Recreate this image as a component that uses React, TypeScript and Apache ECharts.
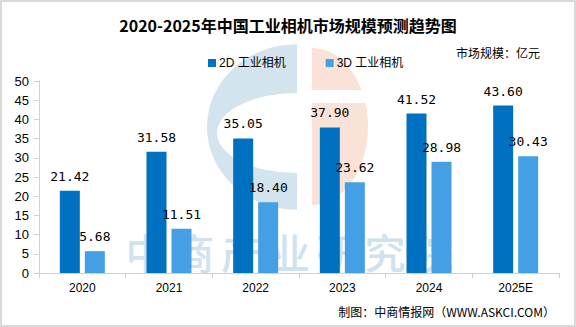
import React, { useEffect, useRef } from "react";
import * as echarts from "echarts";

const categories = ["2020", "2021", "2022", "2023", "2024", "2025E"];
const series2D = [21.42, 31.58, 35.05, 37.9, 41.52, 43.6];
const series3D = [5.68, 11.51, 18.4, 23.62, 28.98, 30.43];
const seriesNames = ["2D 工业相机", "3D 工业相机"];
const yTicks = { min: 0, max: 50, interval: 5 };

const titleText = "2020-2025年中国工业相机市场规模预测趋势图";
const unitText = "市场规模：亿元";
const sourceText = "制图：中商情报网（WWW.ASKCI.COM）";
const watermarkText = "中商产业研究院";

export default function App() {
  const ref = useRef<HTMLDivElement>(null);
  useEffect(() => {
    document.body.style.margin = "0";
    if (!ref.current) return;
    const chart = echarts.init(ref.current, null, { renderer: "svg" });
    const labelStyle = {
      show: true,
      position: "top",
      distance: 8,
      color: "#000",
      fontSize: 13,
      fontFamily: "DejaVu Sans Mono",
      formatter: (p: any) => Number(p.value).toFixed(2),
    };
    const wmChars = Array.from(watermarkText).map((ch, i) => ({
      type: "text",
      z: -7,
      silent: true,
      x: 146 + i * 47.8,
      y: 251,
      style: {
        text: ch,
        fill: "#CFE2EE",
        font: "500 41px 'Noto Sans CJK SC'",
        textAlign: "center",
        textVerticalAlign: "middle",
      },
    }));
    chart.setOption({
      animation: false,
      backgroundColor: "#fff",
      textStyle: { fontFamily: "Liberation Sans, Noto Sans CJK SC" },
      title: {
        text: titleText,
        left: "center",
        top: 12,
        textStyle: {
          fontSize: 16,
          fontWeight: "bold",
          color: "#000",
          fontFamily: "Noto Sans CJK SC",
        },
      },
      legend: {
        data: seriesNames,
        left: 203,
        top: 52,
        itemWidth: 8,
        itemHeight: 8,
        itemGap: 40,
        icon: "rect",
        textStyle: { fontSize: 12, color: "#000", padding: [0, 0, 0, -2] },
      },
      grid: { left: 39, right: 17, top: 81, bottom: 54, containLabel: false },
      xAxis: {
        type: "category",
        data: categories,
        axisLine: { lineStyle: { color: "#d0d0d0", width: 1 } },
        axisTick: { show: true, length: 5, lineStyle: { color: "#d0d0d0" } },
        axisLabel: { color: "#000", fontSize: 12, margin: 9 },
        z: 3,
      },
      yAxis: {
        type: "value",
        min: yTicks.min,
        max: yTicks.max,
        interval: yTicks.interval,
        splitLine: { show: false },
        axisLine: { show: true, lineStyle: { color: "#d0d0d0", width: 1 } },
        axisTick: { show: true, length: 5, lineStyle: { color: "#d0d0d0" } },
        axisLabel: { color: "#000", fontSize: 13, margin: 10 },
      },
      series: [
        {
          name: seriesNames[0],
          type: "bar",
          data: series2D,
          barWidth: 20,
          barGap: "25%",
          itemStyle: { color: "#0070C0" },
          label: labelStyle,
          z: 5,
        },
        {
          name: seriesNames[1],
          type: "bar",
          data: series3D,
          barWidth: 20,
          barGap: "25%",
          itemStyle: { color: "#459FE5" },
          label: labelStyle,
          z: 5,
        },
      ],
      graphic: [
        {
          type: "rect",
          z: -10,
          silent: true,
          shape: { x: 1, y: 1, width: 574, height: 325 },
          style: { fill: "none", stroke: "#d9d9d9", lineWidth: 2 },
        },
        {
          type: "sector",
          z: -9,
          silent: true,
          x: 297,
          y: 127,
          scaleY: 0.92,
          shape: { cx: 0, cy: 0, r: 90, r0: 0, startAngle: Math.PI / 2, endAngle: (Math.PI * 3) / 2, clockwise: true },
          style: { fill: "#D3E4EF" },
        },
        {
          type: "sector",
          z: -8,
          silent: true,
          x: 297,
          y: 133,
          scaleY: 0.5,
          shape: { cx: 0, cy: 0, r: 80, r0: 0, startAngle: Math.PI / 2, endAngle: (Math.PI * 3) / 2, clockwise: true },
          style: { fill: "#ffffff" },
        },
        {
          type: "sector",
          z: -9,
          silent: true,
          x: 312,
          y: 126.5,
          scaleY: 1.4,
          shape: { cx: 0, cy: 0, r: 56, r0: 0, startAngle: -Math.PI / 2, endAngle: Math.PI / 2, clockwise: true },
          style: { fill: "#FBE2D8" },
        },
        {
          type: "rect",
          z: -8,
          silent: true,
          shape: { x: 311, y: 90, width: 60, height: 13 },
          style: { fill: "#ffffff" },
        },
        ...wmChars,
        {
          type: "text",
          left: 456,
          top: 46,
          style: {
            text: unitText,
            fill: "#000",
            font: "12px 'Noto Sans CJK SC'",
          },
        },
        {
          type: "text",
          right: 21,
          top: 305,
          style: {
            text: sourceText,
            fill: "#000",
            font: "12px 'Noto Sans CJK SC'",
          },
        },
      ],
    });
    return () => chart.dispose();
  }, []);
  return <div ref={ref} style={{ width: 576, height: 327 }} />;
}
